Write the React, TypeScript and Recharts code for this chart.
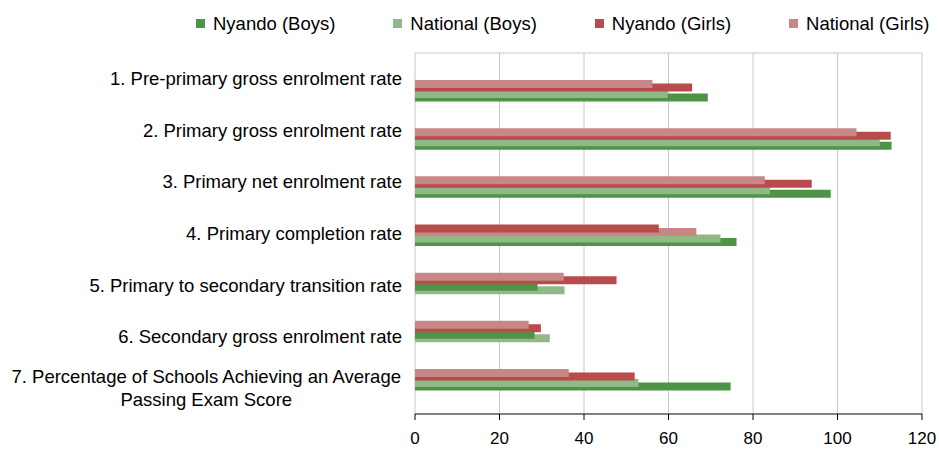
import { BarChart, Bar, XAxis, YAxis, CartesianGrid, Cell } from "recharts";

const categories = [
  "1. Pre-primary gross enrolment rate",
  "2. Primary gross enrolment rate",
  "3. Primary net enrolment rate",
  "4. Primary completion rate",
  "5. Primary to secondary transition rate",
  "6. Secondary gross enrolment rate",
  "7. Percentage of Schools Achieving an Average\nPassing Exam Score",
];

const nyandoBoys = [69.3, 112.8, 98.4, 76.1, 29.0, 28.3, 74.7];
const nationalBoys = [59.8, 110.0, 84.0, 72.3, 35.4, 31.9, 52.9];
const nyandoGirls = [65.6, 112.6, 93.9, 57.7, 47.7, 29.8, 52.0];
const nationalGirls = [56.2, 104.5, 82.8, 66.6, 35.2, 26.9, 36.4];

const xTicks = [0, 20, 40, 60, 80, 100, 120];

const legendItems = [
  { name: "Nyando (Boys)", color: "#4f9346" },
  { name: "National (Boys)", color: "#93b888" },
  { name: "Nyando (Girls)", color: "#b84b4b" },
  { name: "National (Girls)", color: "#c78787" },
];

const FONT = '"Liberation Sans", Arial, sans-serif';

// in each pair the shorter bar sits above the longer one and is drawn over it
function pair(a: number, b: number, ca: string, cb: string) {
  return a <= b
    ? { short: a, shortColor: ca, long: b, longColor: cb }
    : { short: b, shortColor: cb, long: a, longColor: ca };
}

const rows = categories.map((name, i) => {
  const g = pair(nyandoGirls[i], nationalGirls[i], legendItems[2].color, legendItems[3].color);
  const b = pair(nyandoBoys[i], nationalBoys[i], legendItems[0].color, legendItems[1].color);
  return {
    name,
    gShort: g.short, gShortColor: g.shortColor,
    gLong: g.long, gLongColor: g.longColor,
    bShort: b.short, bShortColor: b.shortColor,
    bLong: b.long, bLongColor: b.longColor,
  };
});

const frameTicks = Array.from({ length: categories.length + 1 }, (_, i) => i);

// slot offsets inside a category group (px)
const slotOffsets = [0, 3.5, 10, 13.5];
const slotPadding = (k: number) => ({ top: 7 + slotOffsets[k], bottom: 16.8 - slotOffsets[k] });

let ctx: CanvasRenderingContext2D | null = null;
function textWidth(s: string, font: string) {
  if (!ctx) ctx = document.createElement("canvas").getContext("2d");
  if (!ctx) return s.length * 9;
  ctx.font = font;
  return ctx.measureText(s).width;
}

function CategoryTick(props: any) {
  const { x, y, payload } = props;
  const size = 18.5;
  const lh = 23.3;
  const lines = String(payload.value).split("\n");
  const maxW = Math.max(...lines.map((l) => textWidth(l, `${size}px ${FONT}`)));
  const first = y - ((lines.length - 1) * lh) / 2 + size * 0.355;
  const multi = lines.length > 1;
  return (
    <text
      fontFamily={FONT}
      fontSize={size}
      fill="#000"
      textAnchor={multi ? "middle" : "end"}
    >
      {lines.map((l, i) => (
        <tspan key={i} x={multi ? x - maxW / 2 : x} y={first + i * lh}>
          {l}
        </tspan>
      ))}
    </text>
  );
}

function bar(id: string, key: string, colorKey: string) {
  return (
    <Bar yAxisId={id} dataKey={key} barSize={8} isAnimationActive={false}>
      {rows.map((r: any, i) => (
        <Cell key={i} fill={r[colorKey]} />
      ))}
    </Bar>
  );
}

export default function App() {
  return (
    <div style={{ position: "absolute", left: 0, top: 0, width: 939, height: 450, background: "#fff" }}>
      <div
        style={{
          position: "absolute",
          left: 196,
          top: 13,
          display: "flex",
          gap: 58,
          fontFamily: FONT,
          fontSize: 18.5,
          lineHeight: "21px",
          color: "#000",
          whiteSpace: "nowrap",
        }}
      >
        {legendItems.map((it) => (
          <div key={it.name} style={{ display: "flex", alignItems: "center" }}>
            <span style={{ width: 9, height: 9, background: it.color, marginRight: 8, display: "inline-block" }} />
            <span>{it.name}</span>
          </div>
        ))}
      </div>
      <BarChart
        layout="vertical"
        width={939}
        height={450}
        data={rows}
        margin={{ top: 53, right: 17, bottom: 0, left: 0 }}
      >
        <CartesianGrid
          stroke="#c8c8c8"
          horizontalCoordinatesGenerator={({ offset }: any) => [offset.top]}
        />
        <XAxis
          type="number"
          domain={[0, 120]}
          ticks={xTicks}
          height={36}
          tickSize={6}
          tickMargin={12}
          axisLine={{ stroke: "#000" }}
          tickLine={{ stroke: "#000" }}
          tick={{ fill: "#000", fontSize: 17, fontFamily: FONT }}
        />
        <YAxis
          yAxisId="frame"
          type="number"
          domain={[0, categories.length]}
          ticks={frameTicks}
          allowDataOverflow
          width={0}
          tick={false}
          tickSize={6}
          axisLine={{ stroke: "#000" }}
          tickLine={{ stroke: "#000" }}
        />
        <YAxis
          type="category"
          dataKey="name"
          width={415}
          interval={0}
          axisLine={false}
          tickLine={false}
          tickSize={0}
          tickMargin={13}
          tick={<CategoryTick />}
        />
        {[0, 1, 2, 3].map((k) => (
          <YAxis
            key={k}
            yAxisId={`s${k}`}
            type="category"
            dataKey="name"
            hide
            width={0}
            padding={slotPadding(k)}
          />
        ))}
        {bar("s3", "bLong", "bLongColor")}
        {bar("s2", "bShort", "bShortColor")}
        {bar("s1", "gLong", "gLongColor")}
        {bar("s0", "gShort", "gShortColor")}
      </BarChart>
    </div>
  );
}
